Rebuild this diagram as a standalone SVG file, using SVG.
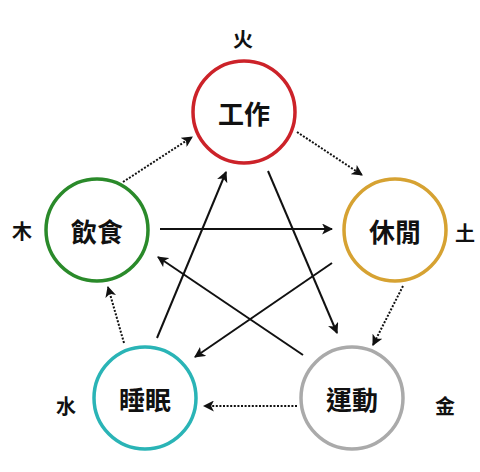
<svg xmlns="http://www.w3.org/2000/svg" width="480" height="472" viewBox="0 0 480 472">
<style>
.node{fill:#fff;stroke-width:3.5}
.lbl{font-family:"Noto Sans CJK TC","Noto Sans CJK SC",sans-serif;font-weight:bold;font-size:26px;text-anchor:middle;dominant-baseline:central;fill:#111}
.el{font-family:"Noto Sans CJK TC","Noto Sans CJK SC",sans-serif;font-weight:bold;font-size:20px;text-anchor:middle;dominant-baseline:central;fill:#111}
.solid{stroke:#111;stroke-width:2;fill:none;marker-end:url(#ah)}
.dot{stroke:#111;stroke-width:2;stroke-dasharray:2 1.6;fill:none;marker-end:url(#ah)}
</style>
<defs>
<marker id="ah" viewBox="0 0 10 10" refX="9" refY="5" markerWidth="5.5" markerHeight="5.5" orient="auto" markerUnits="strokeWidth">
<path d="M0,0 L10,5 L0,10 L2.5,5 Z" fill="#111"/>
</marker>
</defs>
<rect width="480" height="472" fill="#fff"/>
<g id="connectors">
<line class="dot" x1="123" y1="182" x2="192" y2="137"/>
<line class="dot" x1="297" y1="132" x2="362" y2="175"/>
<line class="dot" x1="403" y1="286" x2="373" y2="345"/>
<line class="dot" x1="297" y1="406" x2="204" y2="406"/>
<line class="dot" x1="124" y1="343" x2="108" y2="287"/>
<line class="solid" x1="160" y1="229" x2="332" y2="229"/>
<line class="solid" x1="268" y1="171" x2="337" y2="333"/>
<line class="solid" x1="303" y1="355" x2="158" y2="257"/>
<line class="solid" x1="332" y1="263" x2="195" y2="357"/>
<line class="solid" x1="157" y1="338" x2="226" y2="172"/>
</g>
<g id="node-work">
<circle class="node" cx="244" cy="112" r="51" stroke="#cc2229"/>
<text class="lbl" x="244" y="112">工作</text>
</g>
<g id="node-eat">
<circle class="node" cx="97" cy="230" r="51" stroke="#2a8a2a"/>
<text class="lbl" x="97" y="230">飲食</text>
</g>
<g id="node-rest">
<circle class="node" cx="395" cy="230" r="51" stroke="#d6a232"/>
<text class="lbl" x="395" y="230">休閒</text>
</g>
<g id="node-sleep">
<circle class="node" cx="145" cy="398" r="51" stroke="#2ab4b6"/>
<text class="lbl" x="145" y="398">睡眠</text>
</g>
<g id="node-exercise">
<circle class="node" cx="352" cy="398" r="51" stroke="#aaaaaa"/>
<text class="lbl" x="352" y="398">運動</text>
</g>
<g id="elements">
<text class="el" x="243" y="38">火</text>
<text class="el" x="22" y="230">木</text>
<text class="el" x="465" y="232">土</text>
<text class="el" x="66" y="405">水</text>
<text class="el" x="445" y="405">金</text>
</g>
</svg>
